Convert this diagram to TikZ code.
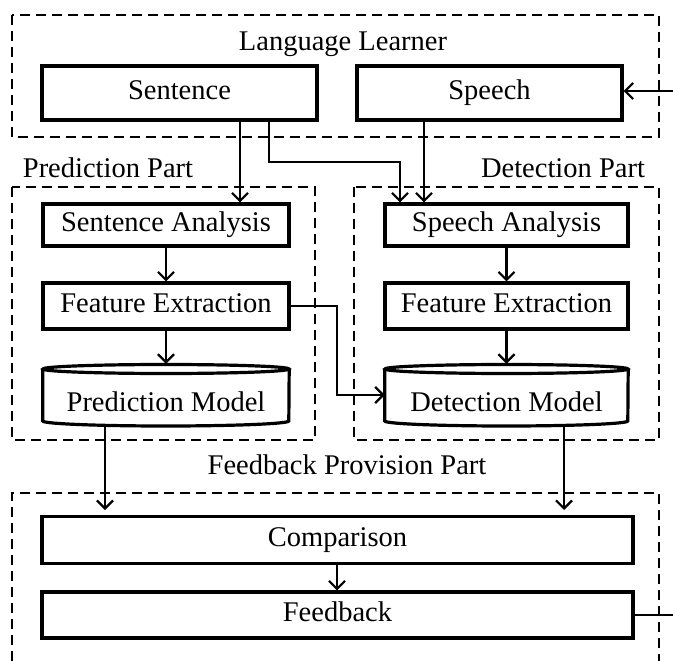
\documentclass[tikz,border=0pt]{standalone}
\usepackage{fontspec}
\setmainfont{Liberation Serif}
\usetikzlibrary{arrows.meta,calc}
\begin{document}
\begin{tikzpicture}[x=1pt,y=-1pt,
  txt/.style={font=\fontsize{28.5}{33}\selectfont, inner sep=0pt},
  btxt/.style={txt, text height=19.5pt, text depth=6pt},
  box/.style={btxt, draw, line width=3.2pt, anchor=center},
  cylnode/.style={txt, minimum width=#1, minimum height=62pt},
  grp/.style={draw, line width=2.6pt, dash pattern=on 10pt off 6pt},
  arr/.style={line width=2.2pt, -{Straight Barb[length=8pt,width=16pt,line width=2.2pt]}},
  ln/.style={line width=2.2pt},
  cyl/.style={line width=3.2pt}]
\useasboundingbox (0,0) rectangle (673,661);
% group frames
\draw[grp] (12,15) rectangle (659,137);
\draw[grp] (12,187) rectangle (315,440);
\draw[grp] (354,187) rectangle (659,440);
\draw[grp] (12,661) -- (12,493) -- (659,493) -- (659,661);
% titles
\node[btxt] (tLL) at (343,44) {Language Learner};
\node[btxt] (tPP) at (108,171) {Prediction Part};
\node[btxt] (tDP) at (563,171) {Detection Part};
\node[btxt] (tFP) at (347,468) {Feedback Provision Part};
% boxes
\node[box, minimum width=275pt, minimum height=54pt] (sent) at (179.5,93) {Sentence};
\node[box, minimum width=265pt, minimum height=54pt] (speech) at (489.5,93) {Speech};
\node[box, minimum width=246pt, minimum height=42pt] (sa) at (166,225) {Sentence Analysis};
\node[box, minimum width=246pt, minimum height=46pt] (fe1) at (166,306) {Feature Extraction};
\node[box, minimum width=243pt, minimum height=42pt] (spa) at (506.5,225) {Speech Analysis};
\node[box, minimum width=243pt, minimum height=46pt] (fe2) at (506.5,306) {Feature Extraction};
\node[box, minimum width=591pt, minimum height=47pt] (comp) at (337.5,540) {Comparison};
\node[box, minimum width=591pt, minimum height=46pt] (fb) at (337.5,615) {Feedback};
% cylinders
\node[cylnode=246pt] (pm) at (166,395) {};
\node[btxt] (pmt) at (166,405) {Prediction Model};
\node[cylnode=243pt] (dm) at (506.5,395) {};
\node[btxt] (dmt) at (506.5,405) {Detection Model};
\draw[cyl] (pm.center |- 0,369) ellipse[x radius=123pt, y radius=4.5pt];
\draw[cyl] ($(pm.west |- 0,369)$) -- ($(pm.west |- 0,421)$)
  arc[start angle=180, end angle=360, x radius=123pt, y radius=5pt]
  -- ($(pm.east |- 0,369)$);
\draw[cyl] (dm.center |- 0,369) ellipse[x radius=121.5pt, y radius=4.5pt];
\draw[cyl] ($(dm.west |- 0,369)$) -- ($(dm.west |- 0,421)$)
  arc[start angle=180, end angle=360, x radius=121.5pt, y radius=5pt]
  -- ($(dm.east |- 0,369)$);
% helper coordinates
\coordinate (x1) at (240,0);
\coordinate (x2) at (269,0);
\coordinate (b1) at (400,162);
\coordinate (x4) at (424,0);
\coordinate (in) at (673,91);
\coordinate (b2) at (337,395);
\coordinate (e1) at (105,510);
\coordinate (e2) at (564,510);
\coordinate (x6) at (337,0);
\coordinate (out) at (673,615);
% connectors
\draw[arr] (sent.south -| x1) -- (sa.north -| x1);
\draw[arr] (sent.south -| x2) |- (b1) -- (spa.north -| b1);
\draw[arr] (speech.south -| x4) -- (spa.north -| x4);
\draw[arr] (in) -- (speech.east |- in);
\draw[arr] (sa.south) -- (fe1.north);
\draw[arr] (fe1.south) -- (pm.north);
\draw[arr] (spa.south) -- (fe2.north);
\draw[arr] (fe2.south) -- (dm.north);
\draw[arr] (fe1.east) -| (b2) -- (dm.west |- b2);
\draw[arr] (pm.south -| e1) -- (e1);
\draw[arr] (dm.south -| e2) -- (e2);
\draw[arr] (comp.south -| x6) -- (fb.north -| x6);
\draw[ln] (fb.east) -- (out);
\end{tikzpicture}
\end{document}
